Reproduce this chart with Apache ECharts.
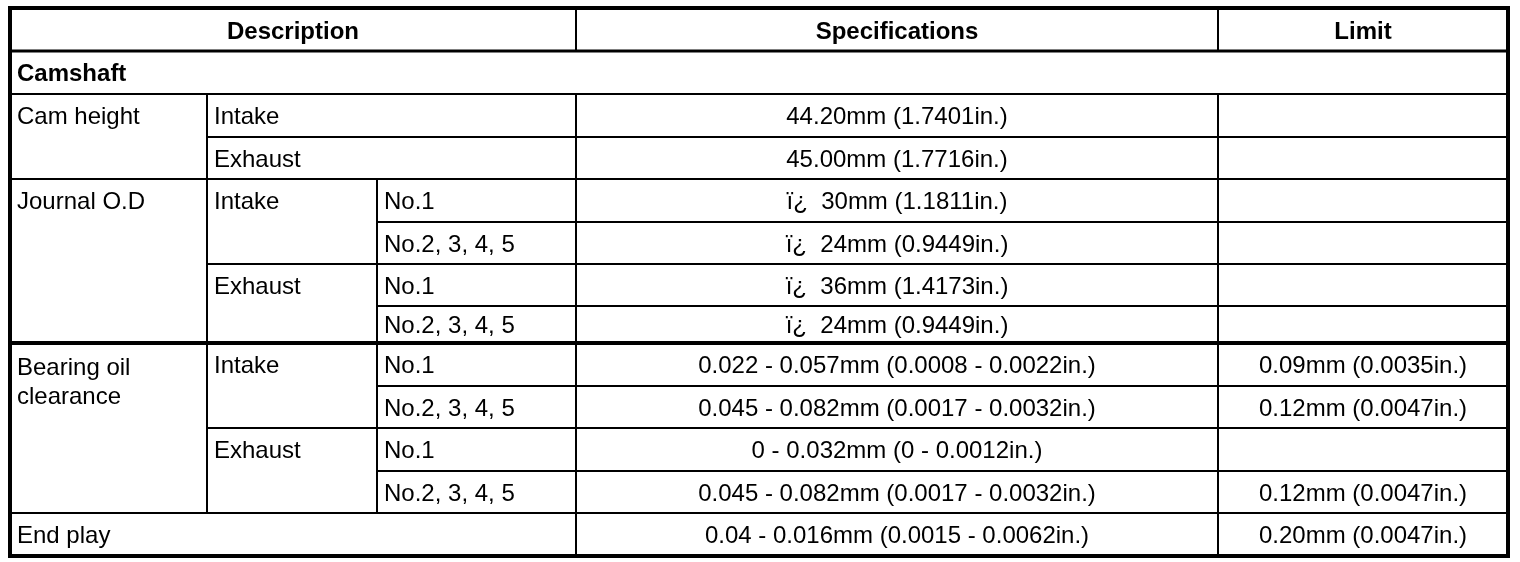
<!DOCTYPE html>
<html lang="en">
<head>
  <meta charset="UTF-8">
  <script src="https://cdn.jsdelivr.net/npm/echarts@6/dist/echarts.min.js"></script>
  <title>Camshaft specifications</title>
  <style>
    * { margin: 0; padding: 0; }
    html, body { width: 100%; height: 100%; background: #fff; }
    #chartbox { width: 1520px; height: 562px; }
  </style>
</head>
<body>
<div id="chartbox"></div>
<script>
  // table text
  const headers = ['Description', 'Specifications', 'Limit'];
  const section = 'Camshaft';
  const items = ['Cam height', 'Journal O.D', 'Bearing oil\nclearance', 'End play'];
  const sides = ['Intake', 'Exhaust'];
  const journals = ['No.1', 'No.2, 3, 4, 5'];
  const specs = [
    '44.20mm (1.7401in.)',
    '45.00mm (1.7716in.)',
    'ï¿\u00a0\u00a030mm (1.1811in.)',
    'ï¿\u00a0\u00a024mm (0.9449in.)',
    'ï¿\u00a0\u00a036mm (1.4173in.)',
    'ï¿\u00a0\u00a024mm (0.9449in.)',
    '0.022 - 0.057mm (0.0008 - 0.0022in.)',
    '0.045 - 0.082mm (0.0017 - 0.0032in.)',
    '0 - 0.032mm (0 - 0.0012in.)',
    '0.045 - 0.082mm (0.0017 - 0.0032in.)',
    '0.04 - 0.016mm (0.0015 - 0.0062in.)'
  ];
  const limits = ['', '', '', '', '', '', '0.09mm (0.0035in.)', '0.12mm (0.0047in.)', '', '0.12mm (0.0047in.)', '0.20mm (0.0047in.)'];

  // layout: cell edges in axis units (= pixels here)
  const colEdges = [10, 207, 377, 576, 1218, 1508];
  const rowEdges = [8, 51, 94, 137, 179, 222, 264, 306, 343, 386, 428, 471, 513, 556];
  // thicker horizontal rules: [row edge index, width]
  const rules = [[1, 3], [8, 4], [12, 2]];

  // cells: [col0, col1, row0, row1, text, align, bold]
  let cells = [];
  cells.push([0, 3, 0, 1, headers[0], 'center', true]);
  cells.push([3, 4, 0, 1, headers[1], 'center', true]);
  cells.push([4, 5, 0, 1, headers[2], 'center', true]);
  cells.push([0, 5, 1, 2, section, 'left', true]);
  // cam height
  cells.push([0, 1, 2, 4, items[0], 'left']);
  cells.push([1, 3, 2, 3, sides[0], 'left']);
  cells.push([1, 3, 3, 4, sides[1], 'left']);
  // journal o.d and bearing oil clearance share the same shape
  [[4, items[1]], [8, items[2]]].forEach(function (g) {
    let r = g[0];
    cells.push([0, 1, r, r + 4, g[1], 'left']);
    cells.push([1, 2, r, r + 2, sides[0], 'left']);
    cells.push([1, 2, r + 2, r + 4, sides[1], 'left']);
    for (let k = 0; k < 4; k++) {
      cells.push([2, 3, r + k, r + k + 1, journals[k % 2], 'left']);
    }
  });
  cells.push([0, 3, 12, 13, items[3], 'left']);
  for (let i = 0; i < specs.length; i++) {
    cells.push([3, 4, 2 + i, 3 + i, specs[i], 'center']);
    cells.push([4, 5, 2 + i, 3 + i, limits[i], 'center']);
  }

  const FONT = '"Liberation Sans", Arial, Helvetica, sans-serif';
  const LINE_H = 29;

  let myChart = echarts.init(document.getElementById('chartbox'));

  function renderCell(params, api) {
    let c = cells[params.dataIndex];
    let p0 = api.coord([api.value(0), api.value(1)]);
    let p1 = api.coord([api.value(2), api.value(3)]);
    let firstBottom = api.coord([0, rowEdges[c[2] + 1]])[1];
    let cy = (p0[1] + firstBottom) / 2 + (c[2] === 0 ? 2.5 : 2);
    let multi = c[4].indexOf('\n') >= 0;
    let tx = c[5] === 'center' ? (p0[0] + p1[0]) / 2 : p0[0] + 7;
    return {
      type: 'group',
      children: [
        {
          type: 'rect',
          shape: { x: p0[0], y: p0[1], width: p1[0] - p0[0], height: p1[1] - p0[1] },
          style: { fill: '#fff', stroke: '#000', lineWidth: 2 }
        },
        {
          type: 'text',
          z2: 10,
          style: {
            x: tx,
            y: multi ? cy - LINE_H / 2 + 2 : cy,
            text: c[4],
            fill: '#000',
            font: (c[6] ? 'bold ' : '') + '24px ' + FONT,
            lineHeight: LINE_H,
            align: c[5],
            verticalAlign: multi ? 'top' : 'middle'
          }
        }
      ]
    };
  }

  function renderRules(params, api) {
    let children = [];
    let tl = api.coord([colEdges[0], rowEdges[0]]);
    let br = api.coord([colEdges[colEdges.length - 1], rowEdges[rowEdges.length - 1]]);
    rules.forEach(function (r) {
      let y = api.coord([0, rowEdges[r[0]]])[1];
      children.push({
        type: 'line',
        shape: { x1: tl[0], y1: y, x2: br[0], y2: y },
        style: { stroke: '#000', lineWidth: r[1] }
      });
    });
    children.push({
      type: 'rect',
      shape: { x: tl[0], y: tl[1], width: br[0] - tl[0], height: br[1] - tl[1] },
      style: { fill: null, stroke: '#000', lineWidth: 4 }
    });
    return { type: 'group', children: children };
  }

  let option = {
    backgroundColor: '#fff',
    animation: false,
    grid: { left: 0, right: 0, top: 0, bottom: 0 },
    xAxis: { type: 'value', min: 0, max: 1520, show: false },
    yAxis: { type: 'value', min: 0, max: 562, inverse: true, show: false },
    series: [
      {
        type: 'custom',
        renderItem: renderCell,
        data: cells.map(function (c) {
          return [colEdges[c[0]], rowEdges[c[2]], colEdges[c[1]], rowEdges[c[3]]];
        }),
        encode: { x: [0, 2], y: [1, 3] },
        silent: true,
        z: 1
      },
      {
        type: 'custom',
        renderItem: renderRules,
        data: [[colEdges[0], rowEdges[0]]],
        silent: true,
        z: 2
      }
    ]
  };
  myChart.setOption(option);
</script>
</body>
</html>
